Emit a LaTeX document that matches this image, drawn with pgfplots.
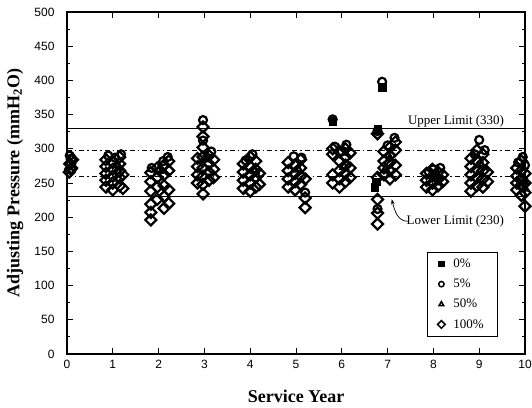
\documentclass[border=0pt]{standalone}
\usepackage{fontspec}
\setmainfont{Liberation Serif}
\setsansfont{Liberation Sans}
\usepackage{pgfplots}
\pgfplotsset{compat=1.18}
\usetikzlibrary{arrows.meta}
\begin{document}
\begin{tikzpicture}
\useasboundingbox (-67pt,-53pt) rectangle (465pt,354pt);
\begin{axis}[
  scale only axis, width=458pt, height=342pt,
  at={(0pt,0pt)}, anchor=south west,
  xmin=0, xmax=10, ymin=0, ymax=500,
  xtick={0,1,...,10}, ytick={0,50,...,500},
  minor y tick num=1,
  tick align=inside,
  major tick length=6pt, minor tick length=3pt,
  axis line style={line width=1.1pt},
  every tick/.style={black, line width=0.9pt},
  ticklabel style={font=\sffamily\fontsize{12}{14}\selectfont},
  /pgf/number format/assume math mode=true,
  xticklabel style={yshift=-3pt},
  yticklabel style={xshift=-9pt},
  clip=false,
  every axis x label/.style={at={(axis description cs:0.5,-0.125)}, anchor=center},
  every axis y label/.style={at={(axis description cs:-0.1135,0.5)}, rotate=90, anchor=center},
  xlabel={\fontsize{18}{20}\selectfont\bfseries Service Year},
  ylabel={\fontsize{18}{20}\selectfont\bfseries Adjusting Pressure (mmH\textsubscript{2}O)},
  legend style={at={(0.786,0.05)}, anchor=south west, draw=black, line width=0.8pt,
    font=\fontsize{13}{15}\selectfont, row sep=6pt, inner xsep=4pt, inner ysep=5pt},
  legend cell align=left,
  legend image code/.code={\path[draw=none,fill=none] (0pt,0pt) -- (20pt,0pt); \draw[#1,mark size=2.7pt,every mark/.append style={line width=1.5pt}] plot coordinates {(10pt,0pt)};},
]
% reference lines
\addplot[black, line width=0.7pt, forget plot] coordinates {(0,330) (10,330)};
\addplot[black, line width=0.7pt, forget plot] coordinates {(0,230) (10,230)};
\addplot[black, line width=1.1pt, dash pattern=on 5pt off 3pt on 1.5pt off 3pt, forget plot] coordinates {(0,297) (10,297)};
\addplot[black, line width=1.1pt, dash pattern=on 5pt off 3pt on 1.5pt off 3pt, forget plot] coordinates {(0,260) (10,260)};

% 0%
\addplot[only marks, mark=square*, mark size=3.8pt, black] coordinates {
(5.8,340) (6.88,390) (6.78,329) (6.75,252) (6.72,244)};
\addlegendentry{\makebox[38pt][l]{0\%}}
% 5%
\addplot[only marks, mark=o, mark size=4pt, black, mark options={fill=white, line width=2.2pt}] coordinates {
(0.06,290) (0.1,286) (0.9,290) (1.05,287) (1.18,292) (1.85,272) (2.1,282) (2.2,288)
(2.97,342) (2.97,312) (3.15,296) (4.05,292) (3.9,283) (4.95,289) (5.12,287) (5.2,236)
(5.8,343) (5.85,303) (6.1,306) (6.0,296) (6.88,398) (6.78,326) (6.78,212) (7.15,316)
(7.0,305) (8.0,270) (8.15,272) (7.9,266) (9.0,313) (8.9,292) (9.12,298) (9.85,280)
(9.95,288) (10,276)};
\addlegendentry{\makebox[38pt][l]{5\%}}
% 50%
\addplot[only marks, mark=triangle, mark size=4.2pt, black, mark options={fill=white, line width=2.2pt}] coordinates {
(0.1,276) (1.1,276) (2.0,268) (3.05,285) (4.1,268) (5.05,270) (6.05,274) (6.95,270)
(7.05,286) (8.05,258) (9.05,276) (9.98,252) (10.0,242)};
\addlegendentry{\makebox[38pt][l]{50\%}}
% 100%
\addplot[only marks, mark=square, mark size=3.9pt, black, mark options={rotate=45, fill=white, line width=2.2pt}] coordinates {
(0.05,266) (0.1,272) (0.06,278) (0.12,284) (0.08,270)
(0.85,244) (0.85,254) (0.85,264) (0.85,274) (0.85,284)
(1.0,240) (1.0,250) (1.0,260) (1.0,270) (1.0,280)
(1.15,246) (1.15,258) (1.15,268) (1.15,278) (1.15,288) (1.22,242) (1.22,262)
(1.83,196) (1.83,207) (1.83,219) (1.83,238) (1.83,252) (1.83,265)
(1.97,226) (1.97,244) (1.97,258) (1.97,272)
(2.12,213) (2.12,230) (2.12,246) (2.12,262) (2.12,276)
(2.22,220) (2.22,240) (2.22,268) (2.22,282)
(2.85,250) (2.85,262) (2.85,274) (2.85,286)
(2.97,234) (2.97,248) (2.97,260) (2.97,272) (2.97,288) (2.97,302) (2.97,318) (2.97,332)
(3.1,254) (3.1,266) (3.1,278) (3.1,290) (3.2,258) (3.2,270) (3.2,284)
(3.85,242) (3.85,254) (3.85,266) (3.85,278)
(4.0,238) (4.0,250) (4.0,262) (4.0,274) (4.0,288)
(4.12,244) (4.12,258) (4.12,270) (4.12,282) (4.2,248) (4.2,264)
(4.83,244) (4.83,256) (4.83,268) (4.83,280)
(4.98,240) (4.98,252) (4.98,264) (4.98,276)
(5.1,248) (5.1,260) (5.1,272) (5.1,284) (5.2,228) (5.2,214) (5.2,256)
(5.8,250) (5.8,262) (5.8,292) (5.8,300)
(5.95,244) (5.95,256) (5.95,268) (5.95,282) (5.95,296)
(6.08,252) (6.08,264) (6.08,276) (6.08,288) (6.08,300)
(6.18,258) (6.18,272) (6.18,294)
(6.78,322) (6.78,258) (6.78,226) (6.78,206) (6.78,190)
(6.92,262) (6.92,272) (6.92,282) (6.92,296)
(7.05,256) (7.05,268) (7.05,280) (7.05,290) (7.05,302)
(7.17,262) (7.17,276) (7.17,298) (7.17,310)
(7.85,244) (7.85,254) (7.85,264) (7.98,240) (7.98,250) (7.98,260) (7.98,270)
(8.1,246) (8.1,256) (8.1,266) (8.2,252) (8.2,262)
(8.82,238) (8.82,250) (8.82,262) (8.82,274) (8.82,286)
(8.95,246) (8.95,258) (8.95,270) (8.95,282) (8.95,298)
(9.08,244) (9.08,256) (9.08,268) (9.08,280) (9.08,292) (9.18,252) (9.18,266)
(9.82,240) (9.82,250) (9.82,260) (9.82,272)
(9.92,232) (9.92,246) (9.92,256) (9.92,268) (9.92,282)
(10.0,216) (10.0,236) (10.0,250) (10.0,264)};
\addlegendentry{\makebox[38pt][l]{100\%}}

\node[anchor=base east, font=\fontsize{13}{15}\selectfont] at (axis cs:9.62,335) {Upper Limit (330)};
\node[anchor=east, font=\fontsize{13}{15}\selectfont] at (axis cs:9.62,194) {Lower Limit (230)};
\draw[-{Stealth[length=5pt]}, line width=0.7pt] (axis cs:7.44,194) to[out=180,in=-75] (axis cs:7.09,226);
\end{axis}
\end{tikzpicture}
\end{document}
